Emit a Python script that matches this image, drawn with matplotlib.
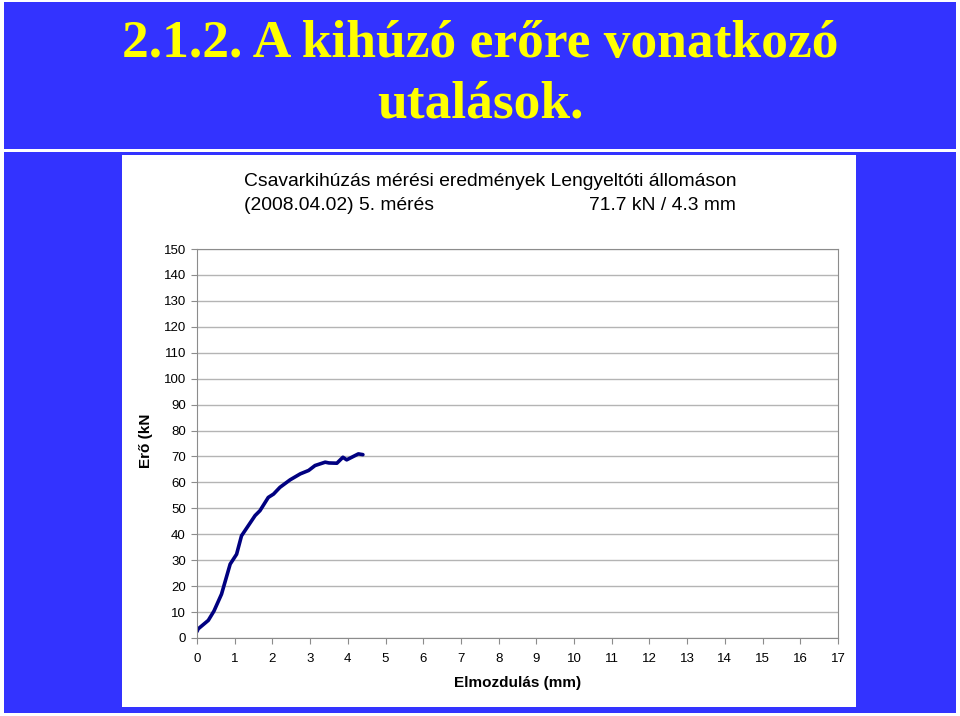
import matplotlib.pyplot as plt
from matplotlib.patches import Rectangle

# displacement (mm) and force (kN)
elmozdulas = [0.0, 0.03, 0.3, 0.45, 0.65, 0.88, 1.05, 1.18, 1.36, 1.54, 1.67, 1.89, 2.03,
              2.2, 2.47, 2.74, 2.96, 3.13, 3.4, 3.5, 3.71, 3.87, 3.97, 4.28, 4.4]
ero = [2.5, 3.5, 6.8, 10.4, 16.9, 28.5, 32.3, 39.4, 43.3, 47.2, 49.1, 54.2, 55.5,
       58.1, 61.0, 63.3, 64.6, 66.5, 67.8, 67.5, 67.4, 69.7, 68.7, 71.0, 70.7]

x_ticks = list(range(0, 18))
y_ticks = list(range(0, 151, 10))

W, H = 960, 716
blue = '#3333ff'

fig = plt.figure(figsize=(W / 100, H / 100), dpi=100, facecolor='white')


def rect(x0, y0, x1, y1, color):
    # pixel coords (top-left origin) -> figure fraction
    fig.patches.append(Rectangle((x0 / W, 1 - y1 / H), (x1 - x0) / W, (y1 - y0) / H,
                                 transform=fig.transFigure, facecolor=color,
                                 edgecolor='none', zorder=-2))


rect(4, 2, 956, 148.5, blue)
rect(4, 152, 956, 713, blue)
rect(122, 155, 856, 707, 'white')

# slide title
fig.text(480 / W, 1 - 44 / H, '2.1.2. A kihúzó erőre vonatkozó', ha='center', va='center',
         color='yellow', fontsize=38.5, fontweight='bold', family='Liberation Serif')
fig.text(480 / W, 1 - 104 / H, 'utalások.', ha='center', va='center',
         color='yellow', fontsize=38.5, fontweight='bold', family='Liberation Serif')

# chart title
fig.text(490 / W, 1 - 181 / H, 'Csavarkihúzás mérési eredmények Lengyeltóti állomáson',
         ha='center', va='center', fontsize=13.9, family='Liberation Sans')
fig.text(244 / W, 1 - 205 / H, '(2008.04.02) 5. mérés', ha='left', va='center',
         fontsize=13.9, family='Liberation Sans')
fig.text(736 / W, 1 - 205 / H, '71.7 kN / 4.3 mm', ha='right', va='center',
         fontsize=13.9, family='Liberation Sans')

ax = fig.add_axes([197 / W, 1 - 638 / H, (838 - 197) / W, (638 - 249) / H])
ax.set_zorder(2)
ax.plot(elmozdulas, ero, color='#000080', linewidth=2.6, solid_capstyle='round')

ax.set_xlim(0, 17)
ax.set_ylim(0, 150)
ax.set_xticks(x_ticks)
ax.set_yticks(y_ticks)
ax.yaxis.grid(True, color='#b4b4b4', linewidth=1)
ax.set_axisbelow(True)
for s in ax.spines.values():
    s.set_color('#8c8c8c')
ax.tick_params(colors='#8c8c8c', labelcolor='black', length=4, labelsize=9.5)
ax.tick_params(axis='x', pad=7)
ax.tick_params(axis='y', pad=4)
for lab in ax.get_xticklabels() + ax.get_yticklabels():
    lab.set_family('Liberation Sans')

fig.text(518 / W, 1 - 683 / H, 'Elmozdulás (mm)', ha='center', va='center',
         fontsize=11, fontweight='bold', family='Liberation Sans')
fig.text(146 / W, 1 - 441 / H, 'Erő (kN', ha='center', va='center', rotation=90,
         fontsize=11, fontweight='bold', family='Liberation Sans')

fig.savefig('out.png', dpi=100, facecolor='white')
